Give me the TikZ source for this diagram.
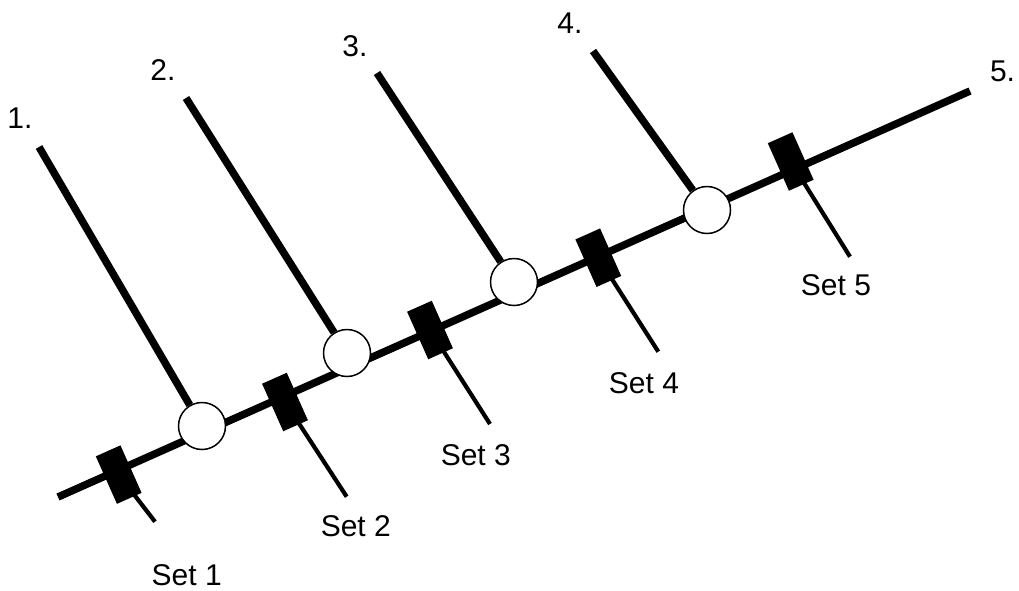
\documentclass[tikz,border=0pt]{standalone}
\usepackage{fontspec}
\setmainfont{Liberation Sans}
\usetikzlibrary{backgrounds}
\begin{document}
\begin{tikzpicture}[x=1pt,y=-1pt,
  mainline/.style={line width=7.5pt},
  labline/.style={line width=7.5pt},
  setline/.style={line width=4.2pt},
  hub/.style={circle, draw, line width=1.5pt, fill=white, minimum size=47pt, inner sep=0pt},
  clamp/.style={rectangle, fill=black, minimum width=27pt, minimum height=52pt, inner sep=0pt, rotate=24},
  lab/.style={font=\fontsize{30}{36}\selectfont, anchor=base, inner sep=0pt}]
\useasboundingbox (0,0) rectangle (1019,590);
% main line ends
\coordinate (m0) at (58,497);
\coordinate (m1) at (970,91);
% hubs
\node[hub] (c1) at (202,426) {};
\node[hub] (c2) at (347,353) {};
\node[hub] (c3) at (514,282) {};
\node[hub] (c4) at (707,210) {};
% clamps
\node[clamp] (r1) at (118.7,474.6) {};
\node[clamp] (r2) at (285,402) {};
\node[clamp] (r3) at (430,330) {};
\node[clamp] (r4) at (598.3,257.7) {};
\node[clamp] (r5) at (790.7,161.5) {};
% free ends
\coordinate (t1) at (39,147);
\coordinate (t2) at (186,98);
\coordinate (t3) at (377,73);
\coordinate (t4) at (593,51);
\coordinate (e1) at (155,521.7);
\coordinate (e2) at (346.7,496.7);
\coordinate (e3) at (490,424);
\coordinate (e4) at (658.3,351.7);
\coordinate (e5) at (850,256.7);
% labels
\node[lab] (l1) at (20,128.3) {1.};
\node[lab] (l2) at (163,80.7) {2.};
\node[lab] (l3) at (355,56.7) {3.};
\node[lab] (l4) at (570,33) {4.};
\node[lab] (l5) at (1002.5,81.7) {5.};
\node[lab] (s1) at (186.7,585.7) {Set 1};
\node[lab] (s2) at (355.8,536.7) {Set 2};
\node[lab] (s3) at (475.8,465) {Set 3};
\node[lab] (s4) at (644,393.3) {Set 4};
\node[lab] (s5) at (836,295) {Set 5};
\begin{pgfonlayer}{background}
\draw[mainline] (m0) -- (m1);
\foreach \i in {1,...,5} {\draw[setline] (r\i.center) -- (e\i);}
\foreach \i in {1,...,4} {\draw[labline] (t\i) -- (c\i);}
\end{pgfonlayer}
\end{tikzpicture}
\end{document}
